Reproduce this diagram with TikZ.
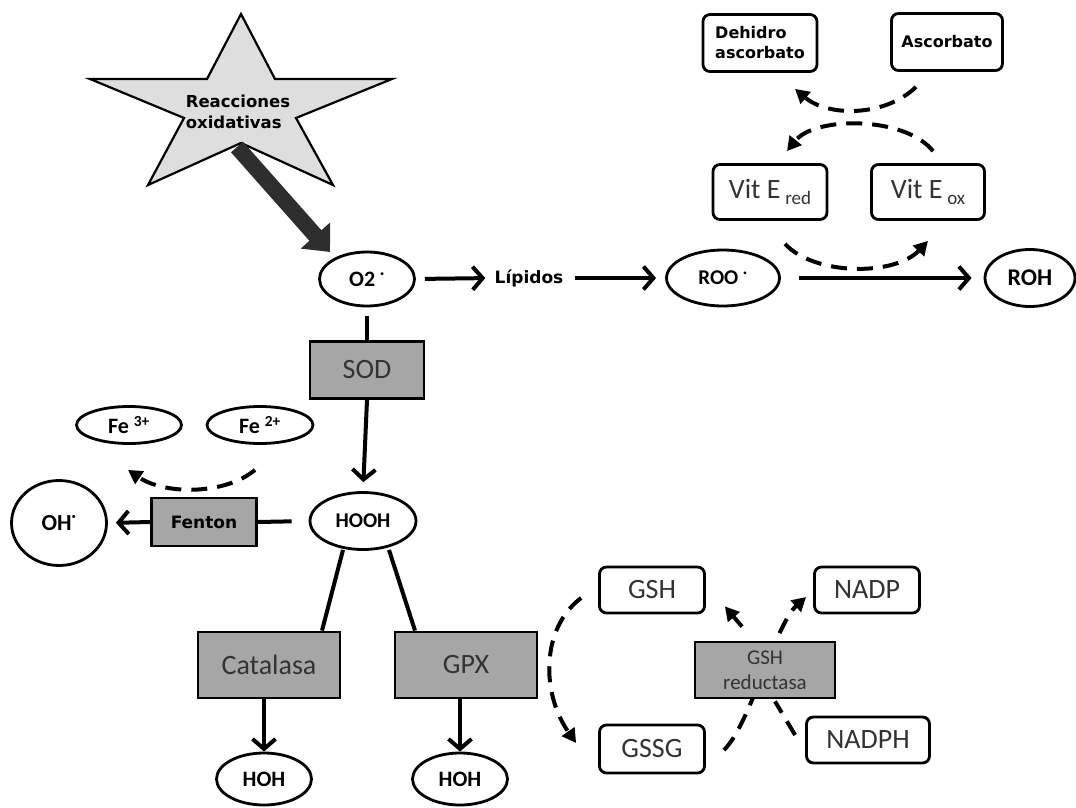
\documentclass[tikz,border=0pt]{standalone}
\usepackage{fontspec}
\setmainfont{Carlito}
\newfontfamily\verd{DejaVu Sans}
\usetikzlibrary{arrows.meta,shapes.geometric,calc}
\begin{document}
\begin{tikzpicture}[x=1pt,y=-1pt,
  every node/.style={inner sep=0pt, line width=2.8pt},
  ell/.style={draw, ellipse, font=\bfseries\fontsize{21}{21}\selectfont},
  rbox/.style={draw, rounded corners=7pt, text=black!80, font=\fontsize{28}{28}\selectfont},
  gbox/.style={draw, fill=black!35, text=black!80, font=\fontsize{28}{28}\selectfont},
  conn/.style={line width=4pt, -{Straight Barb[length=10pt,width=23pt]}},
  solidline/.style={line width=4pt},
  solidtri/.style={line width=4pt, -{Triangle[length=14pt,width=15pt]}},
  dashconn/.style={line width=4pt, dash pattern=on 16pt off 10pt, -{Triangle[length=14pt,width=15pt]}},
  dashline/.style={line width=4pt, dash pattern=on 16pt off 10pt},
]
\useasboundingbox (0,0) rectangle (1076,808);
\fill[white] (0,0) rectangle (1076,808);

% star
\draw[line width=2.2pt, fill=black!13, line join=miter] (241,14) -- (275,79) -- (392,79) -- (296,118) -- (333,185) -- (241,143) -- (148,185) -- (184,118) -- (90,79) -- (207,79) -- cycle;
\node[font=\verd\bfseries\fontsize{16.5}{21}\selectfont, align=left] (star) at (238,112) {Reacciones\\oxidativas};

% top row
\node[ell, minimum width=95pt, minimum height=54pt, font=\bfseries\fontsize{22}{22}\selectfont] (o2) at (367,279) {O2 \textsuperscript{·}};
\node[font=\verd\bfseries\fontsize{17}{17}\selectfont] (lip) at (529,278) {Lípidos};
\node[ell, minimum width=113pt, minimum height=56pt] (roo) at (723,278) {ROO \textsuperscript{·}};
\node[ell, minimum width=90pt, minimum height=57pt, font=\bfseries\fontsize{24}{24}\selectfont] (roh) at (1030,278) {ROH};

\coordinate (starbot) at (237,147);
\coordinate (o2in) at (330,252);
\draw[line width=16pt, black!82, -{Triangle[length=22pt,width=38pt]}] (starbot) -- (o2in);

\node[rbox, minimum width=114pt, minimum height=55pt] (ered) at (770,192) {Vit E\,\raisebox{-6pt}{\fontsize{19}{19}\selectfont red}};
\node[rbox, minimum width=113pt, minimum height=55pt] (eox) at (928,192) {Vit E\,\raisebox{-6pt}{\fontsize{19}{19}\selectfont ox}};
\node[rbox, minimum width=114pt, minimum height=57pt, text=black, font=\verd\bfseries\fontsize{16}{20}\selectfont, align=left] (dehid) at (760,43) {Dehidro\\ascorbato};
\node[rbox, minimum width=111pt, minimum height=57pt, text=black, font=\verd\bfseries\fontsize{16}{20}\selectfont] (asc) at (947,42) {Ascorbato};

\draw[conn, shorten <=9pt, shorten >=8pt] (o2.east) -- (lip.west);
\draw[conn, shorten <=10pt, shorten >=9pt] (lip.east) -- (roo.west);
\draw[conn, shorten <=18pt, shorten >=12pt] (roo.east) -- (roh.west);

\draw[dashconn] ($(asc.south)+(-31,15)$) .. controls (885,117) and (828,117) .. ($(dehid.south)+(35,16)$);
\draw[dashconn] ($(eox.north)+(5,-12)$) .. controls (905,116) and (815,116) .. ($(ered.north)+(17,-12)$);
\draw[dashconn] ($(ered.south)+(15,23)$) .. controls (815,276) and (895,276) .. ($(eox.south)+(0,20)$);

% left part
\node[gbox, minimum width=114pt, minimum height=57pt] (sod) at (367,370) {SOD};
\node[ell, minimum width=106pt, minimum height=57pt] (hooh) at (363,521) {HOOH};
\node[gbox, minimum width=105pt, minimum height=48pt, text=black, font=\verd\bfseries\fontsize{17}{17}\selectfont] (fenton) at (204,522) {Fenton};
\node[ell, minimum width=95pt, minimum height=85pt, font=\bfseries\fontsize{23}{23}\selectfont] (oh) at (59,523) {OH\textsuperscript{·}};
\node[ell, minimum width=105pt, minimum height=37pt, font=\bfseries\fontsize{22}{22}\selectfont] (fe3) at (129,425) {Fe \textsuperscript{3+}};
\node[ell, minimum width=106pt, minimum height=37pt, font=\bfseries\fontsize{22}{22}\selectfont] (fe2) at (260,425) {Fe \textsuperscript{2+}};

\draw[solidline, shorten <=9pt] (o2.south) -- (sod.north);
\draw[conn, shorten >=9pt] (sod.south) -- (hooh.north);
\draw[solidline, shorten <=17pt] (hooh.west) -- (fenton.east);
\draw[conn, shorten >=8pt] (fenton.west) -- (oh.east);
\draw[dashconn] ($(fe2.south)+(-5,25)$) .. controls (225,495) and (165,495) .. ($(fe3.south)+(-1,25)$);

% bottom
\node[gbox, minimum width=142pt, minimum height=66pt] (cat) at (269,665) {Catalasa};
\node[gbox, minimum width=142pt, minimum height=66pt] (gpx) at (466,665) {GPX};
\node[ell, minimum width=95pt, minimum height=52pt, font=\bfseries\fontsize{22}{22}\selectfont] (hoh1) at (264,779) {HOH};
\node[ell, minimum width=95pt, minimum height=52pt, font=\bfseries\fontsize{22}{22}\selectfont] (hoh2) at (460,779) {HOH};

\draw[solidline] ($(hooh.south)+(-20,-1)$) -- ($(cat.north)+(53,0)$);
\draw[solidline] ($(hooh.south)+(26,-1)$) -- ($(gpx.north)+(-51,0)$);
\draw[conn] (cat.south -| hoh1) -- (hoh1.north);
\draw[conn] (gpx.south -| hoh2) -- (hoh2.north);

% glutathione cycle
\node[rbox, minimum width=105pt, minimum height=46pt] (gsh) at (652,590) {GSH};
\node[rbox, minimum width=105pt, minimum height=48pt] (gssg) at (652,749) {GSSG};
\node[rbox, minimum width=105pt, minimum height=46pt] (nadp) at (867,590) {NADP};
\node[rbox, minimum width=123pt, minimum height=46pt] (nadph) at (868,740) {NADPH};

\draw[dashconn] ($(gsh.west)+(-17,8)$) .. controls (541,628) and (541,693) .. ($(gssg.west)+(-22,-6)$);
\draw[dashconn] ($(gssg.east)+(18,1)$) .. controls (750,725) and (775,625) .. ($(nadp.west)+(-7,7)$);

\node[gbox, minimum width=140pt, minimum height=56pt, align=center, font=\fontsize{21}{25}\selectfont] (gr) at (765,670) {GSH\\reductasa};

\draw[dashline] ($(nadph.west)+(-10,-5)$) -- ($(gr.south)+(10,2)$);
\draw[solidtri] ($(gr.north)+(-23,-14)$) -- ($(gsh.south east)+(19,-8)$);
\end{tikzpicture}
\end{document}
